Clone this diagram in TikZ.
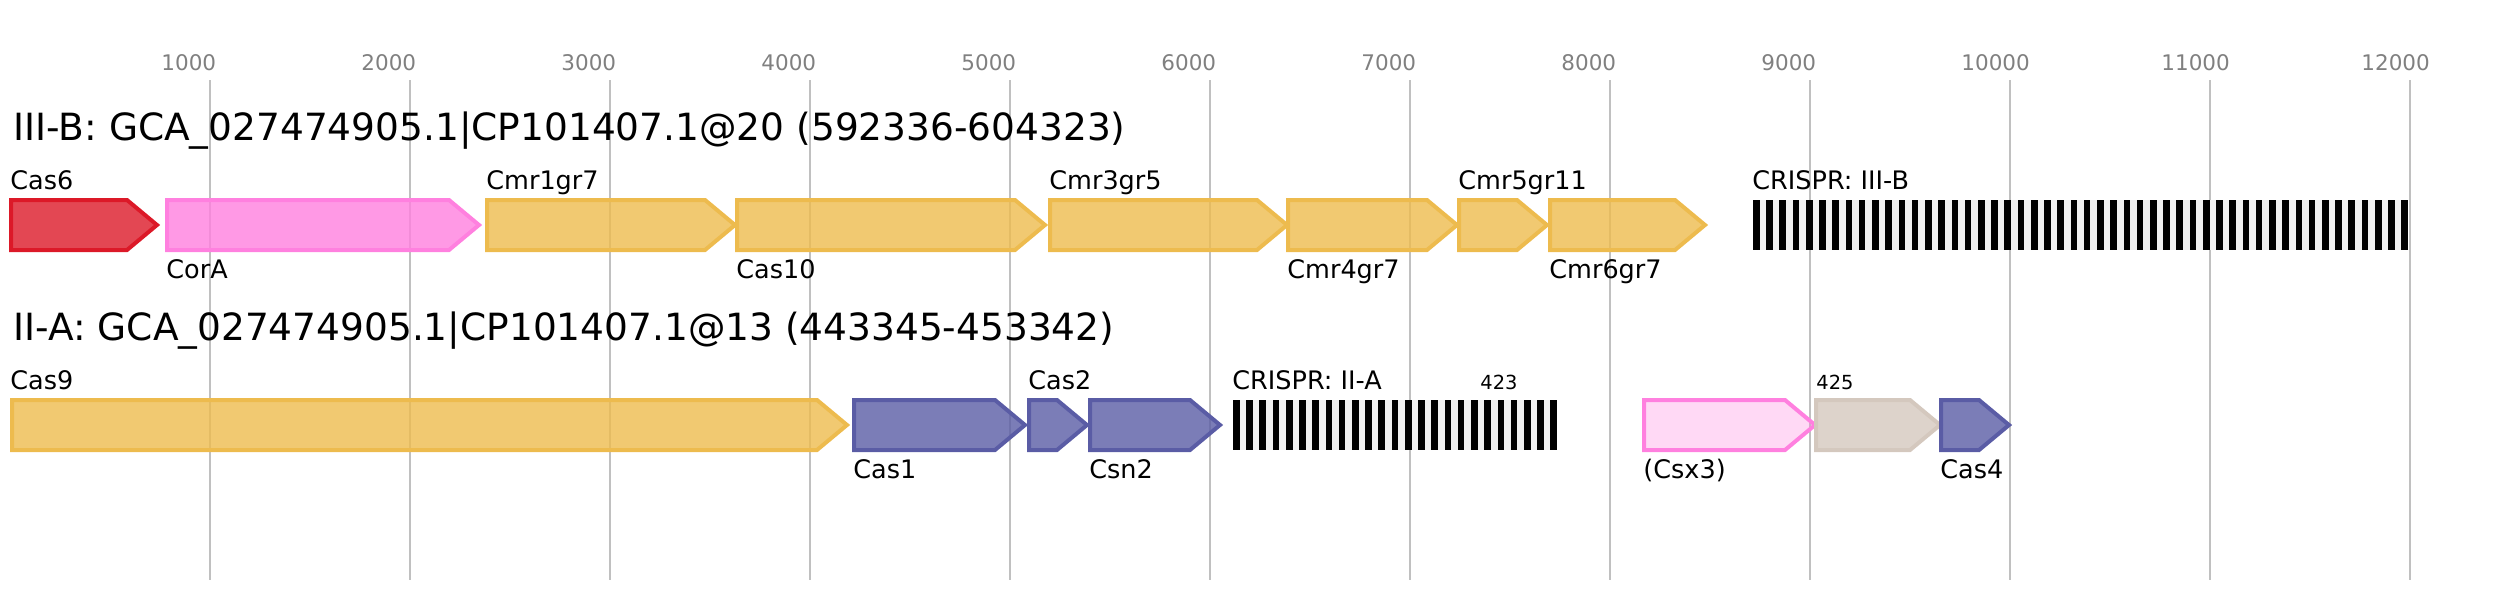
\documentclass[tikz,border=0pt]{standalone}
\usepackage{fontspec}
\setmainfont{DejaVu Sans}
\definecolor{cRed}{RGB}{220,25,40}
\definecolor{cPink}{RGB}{255,128,223}
\definecolor{cYel}{RGB}{237,187,78}
\definecolor{cBlue}{RGB}{90,92,165}
\definecolor{cTaupe}{RGB}{212,200,190}
\definecolor{cStripe}{RGB}{240,240,240}
\definecolor{cGrid}{RGB}{192,192,192}
\definecolor{cTick}{RGB}{128,128,128}
\newcommand\genearrow[5][0.8]{%
  \draw[genestyle, draw=#5, fill=#5, fill opacity=#1]
    (#2,#4) -- ({#3-30},#4) -- (#3,{#4+25}) -- ({#3-30},{#4+50}) -- (#2,{#4+50}) -- cycle;}
\newcommand\crisprarray[4]{%
  \fill[cStripe] (#1,#3) rectangle (#2,{#3+50});
  \pgfmathsetmacro\stripew{(#2-#1)/(2*#4+1)}
  \foreach \kk in {0,...,#4} {
    \fill[black] ({#1+2*\kk*\stripew},#3) rectangle ({#1+(2*\kk+1)*\stripew},{#3+50});
  }}
\begin{document}
\begin{tikzpicture}[x=0.5pt,y=-0.5pt,
  gridline/.style={draw=cGrid, line width=1pt},
  ticklabel/.style={anchor=base west, inner sep=0pt, text=cTick, font=\fontsize{10.75}{12}\selectfont},
  titlelabel/.style={anchor=base west, inner sep=0pt, font=\fontsize{18.75}{22}\selectfont},
  genelabel/.style={anchor=base west, inner sep=0pt, font=\fontsize{12.75}{15}\selectfont},
  smalllabel/.style={anchor=base west, inner sep=0pt, font=\fontsize{9.7}{11}\selectfont},
  genestyle/.style={line width=2pt, line join=miter}]
\useasboundingbox (0,0) rectangle (2497,600);
% grid and ticks
\foreach \k in {1,...,12} {
  \draw[gridline] ({10+200*\k},80) -- ({10+200*\k},580);
  \node[ticklabel] (tick\k) at ({10+200*\k-49},70) {\k000};
}
% titles
\node[titlelabel] (title1) at (13,140) {III-B: GCA\_027474905.1|CP101407.1@20 (592336-604323)};
\node[titlelabel] (title2) at (13,340) {II-A: GCA\_027474905.1|CP101407.1@13 (443345-453342)};
% row 1
\genearrow{11}{157}{200}{cRed}
\genearrow{167}{479}{200}{cPink}
\genearrow{487}{735}{200}{cYel}
\genearrow{737}{1045}{200}{cYel}
\genearrow{1050}{1287}{200}{cYel}
\genearrow{1288}{1457}{200}{cYel}
\genearrow{1459}{1547}{200}{cYel}
\genearrow{1550}{1705}{200}{cYel}
\crisprarray{1753}{2408}{200}{49}
\node[genelabel] (cas6) at (10,189) {Cas6};
\node[genelabel] (cora) at (166,278) {CorA};
\node[genelabel] (cmr1) at (486,189) {Cmr1gr7};
\node[genelabel] (cas10) at (736,278) {Cas10};
\node[genelabel] (cmr3) at (1049,189) {Cmr3gr5};
\node[genelabel] (cmr4) at (1287,278) {Cmr4gr7};
\node[genelabel] (cmr5) at (1458,189) {Cmr5gr11};
\node[genelabel] (cmr6) at (1549,278) {Cmr6gr7};
\node[genelabel] (cr1) at (1752,189) {CRISPR: III-B};
% row 2
\genearrow{12}{847}{400}{cYel}
\genearrow{854}{1025}{400}{cBlue}
\genearrow{1029}{1087}{400}{cBlue}
\genearrow{1090}{1220}{400}{cBlue}
\crisprarray{1233}{1557}{400}{24}
\genearrow[0.3]{1644}{1815}{400}{cPink}
\genearrow{1816}{1940}{400}{cTaupe}
\genearrow{1941}{2009}{400}{cBlue}
\node[genelabel] (cas9) at (10,389) {Cas9};
\node[genelabel] (cas1) at (853,478) {Cas1};
\node[genelabel] (cas2) at (1028,389) {Cas2};
\node[genelabel] (csn2) at (1089,478) {Csn2};
\node[genelabel] (cr2) at (1232,389) {CRISPR: II-A};
\node[smalllabel] (n423) at (1480,389) {423};
\node[genelabel] (csx3) at (1643,478) {(Csx3)};
\node[smalllabel] (n425) at (1816,389) {425};
\node[genelabel] (cas4) at (1940,478) {Cas4};
\end{tikzpicture}
\end{document}
